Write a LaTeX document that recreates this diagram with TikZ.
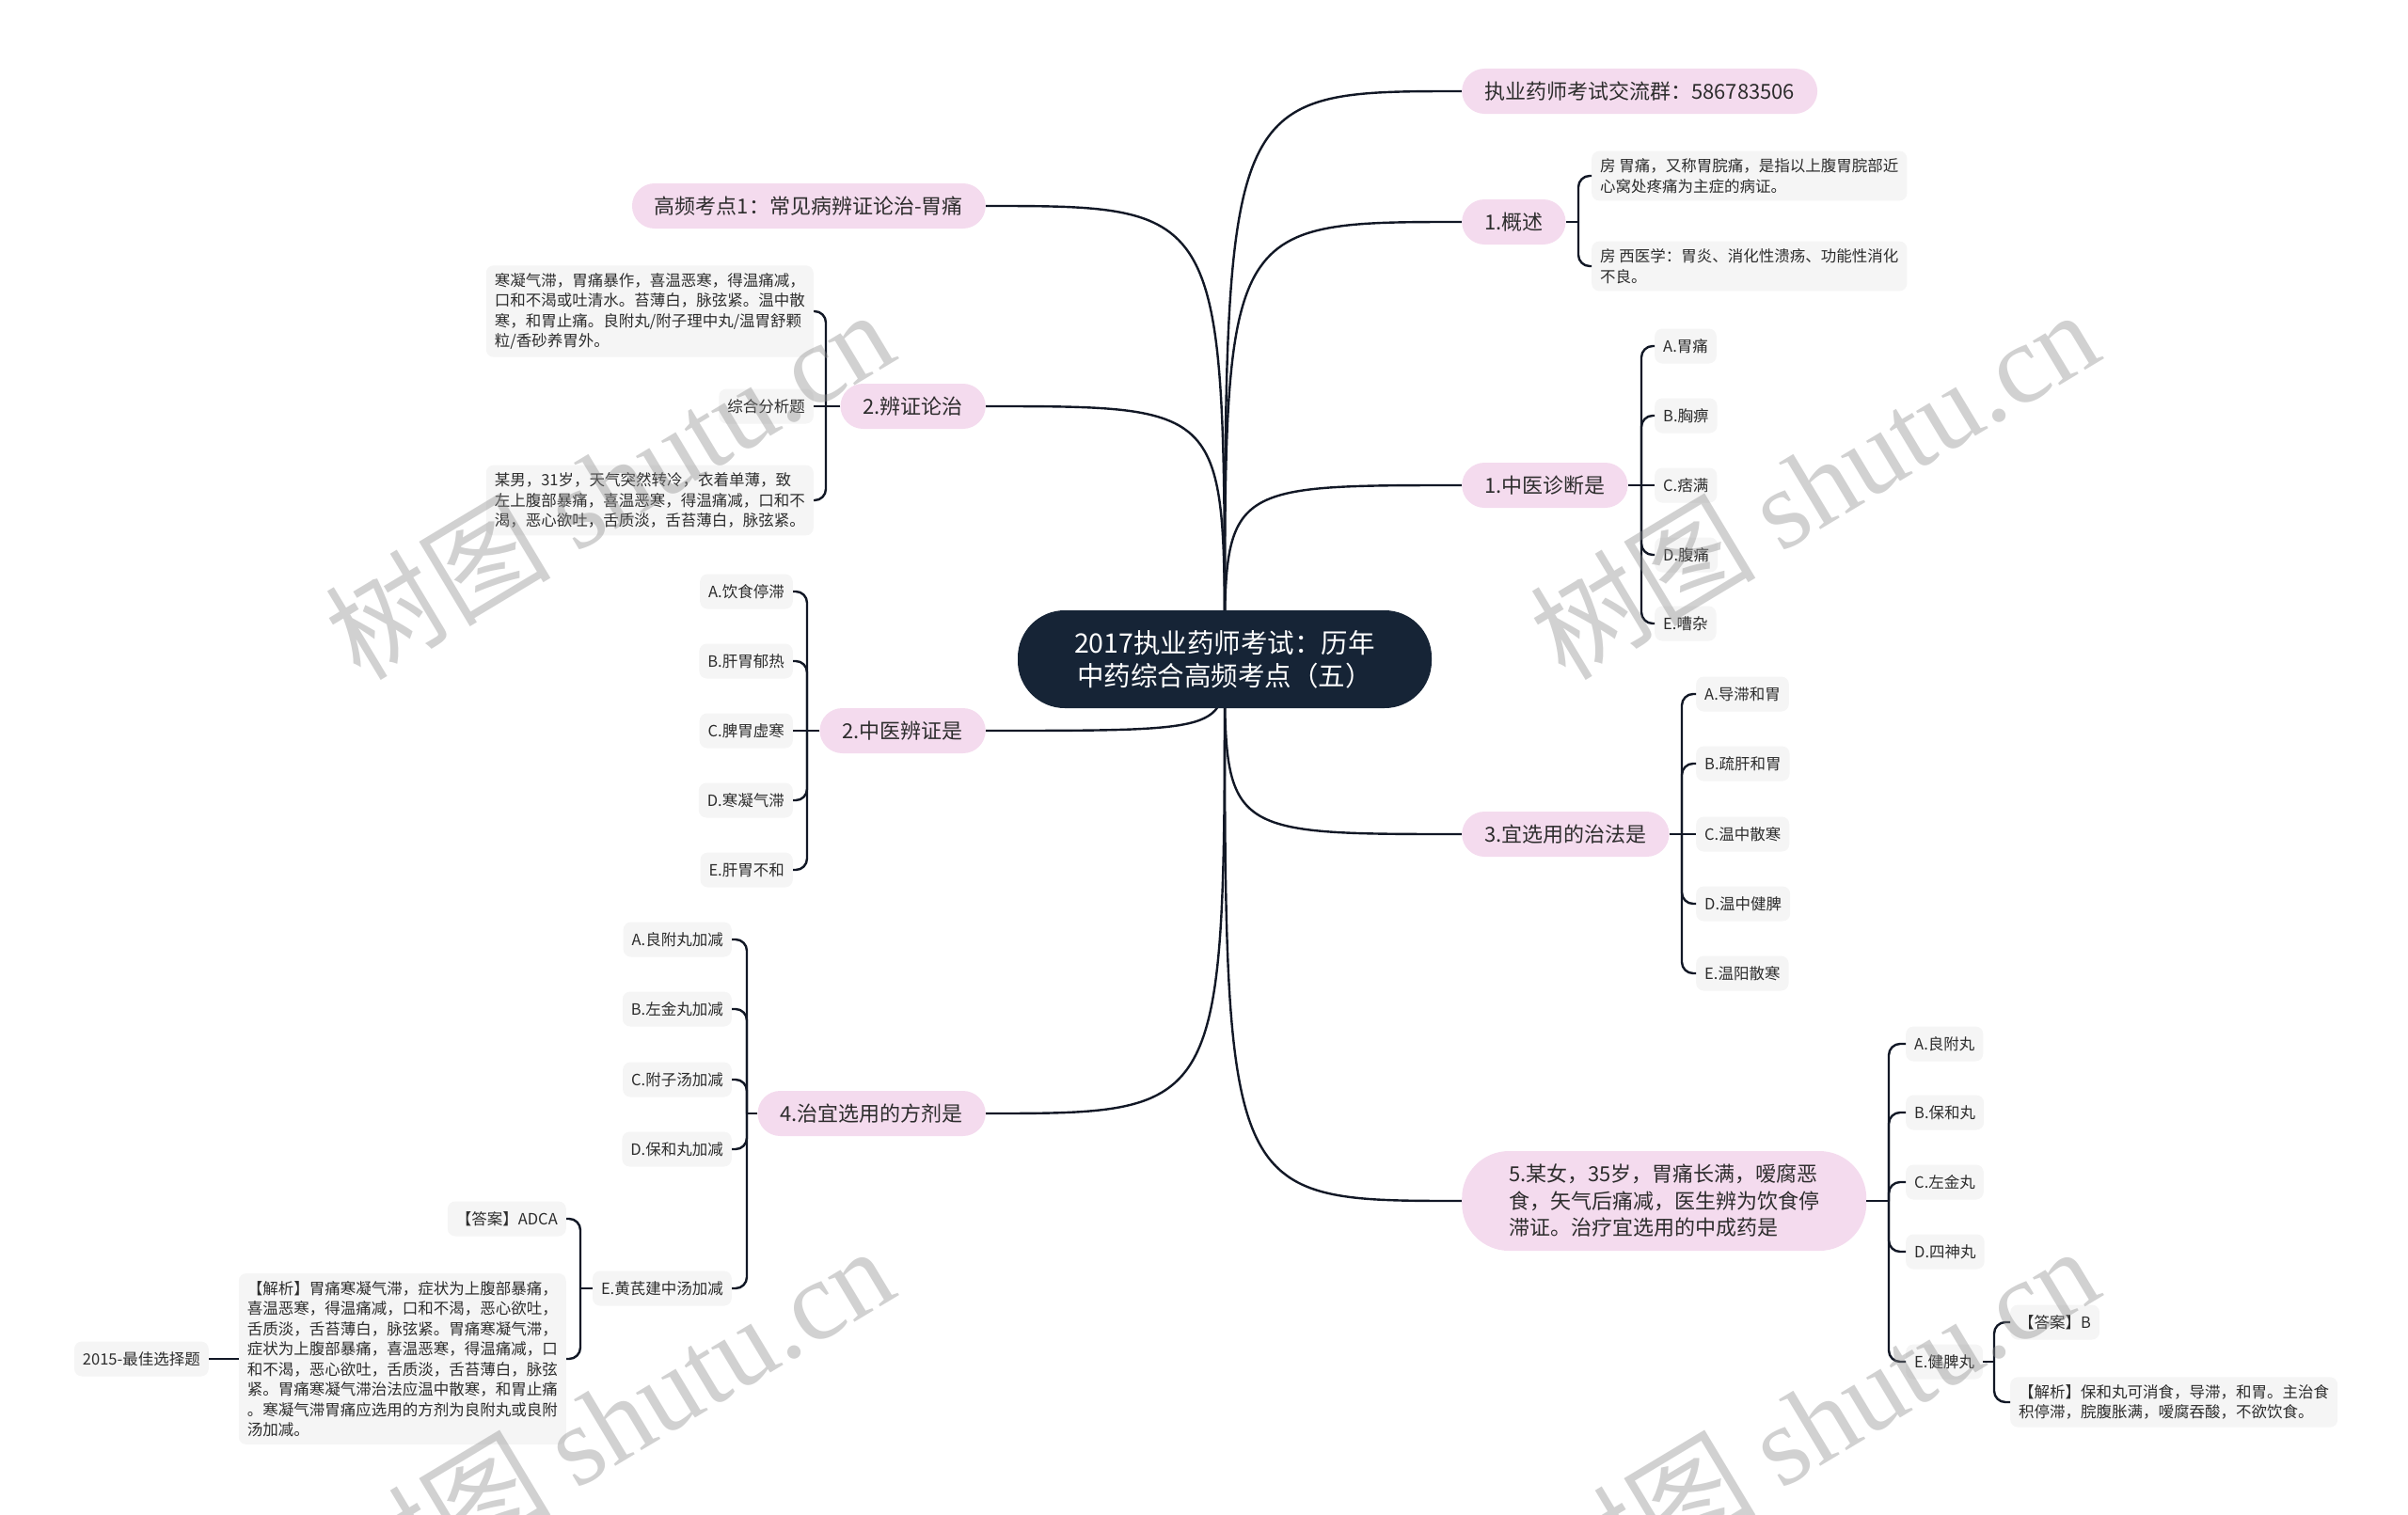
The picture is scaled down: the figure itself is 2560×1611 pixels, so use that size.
\documentclass[tikz,border=0pt]{standalone}
\usepackage{fontspec}
\setmainfont{Noto Sans CJK SC}
\newfontfamily\markserif{Liberation Serif}
\usetikzlibrary{backgrounds}

\definecolor{rootnavy}{RGB}{22,36,54}
\definecolor{topicpink}{RGB}{244,219,238}
\definecolor{leafgray}{RGB}{245,245,245}
\definecolor{inkgray}{RGB}{45,45,45}
\definecolor{linenavy}{RGB}{18,24,38}
\definecolor{markgray}{RGB}{140,140,140}

\tikzstyle{rootblock} = [rectangle, rounded corners=50pt, minimum width=440pt, minimum height=104pt, text centered, align=center, fill=rootnavy, text=white, font=\fontsize{28.5}{35}\selectfont]
\tikzstyle{topicblock} = [rectangle, rounded corners=24pt, minimum height=48pt, inner xsep=24pt, fill=topicpink, text=inkgray, font=\fontsize{22}{28.5}\selectfont]
\tikzstyle{leafblock} = [rectangle, rounded corners=8pt, minimum height=37pt, inner xsep=9pt, fill=leafgray, text=inkgray, font=\fontsize{16.5}{21.5}\selectfont]
\tikzstyle{noteblock} = [leafblock, align=left, inner ysep=8pt]
\tikzstyle{mainflow} = [draw=linenavy, line width=2.4pt]
\tikzstyle{branchflow} = [draw=linenavy, line width=2.4pt, rounded corners=12pt]
\tikzstyle{watermark} = [rotate=31, text=markgray, text opacity=0.4, font=\fontsize{120}{120}\selectfont]

\begin{document}
\begin{tikzpicture}[x=1pt, y=-1pt]
    \useasboundingbox (0,0) rectangle (2560,1611);

    \node (root) [rootblock] at (1302,701) {2017执业药师考试：历年\\中药综合高频考点（五）};

    % right side
    \node (qun) [topicblock, anchor=west] at (1554,97) {执业药师考试交流群：586783506};
    \node (gaishu) [topicblock, anchor=west] at (1554,236) {1.概述};
    \node (zhenduan) [topicblock, anchor=west] at (1554,516) {1.中医诊断是};
    \node (zhifa) [topicblock, anchor=west] at (1554,887) {3.宜选用的治法是};
    \node (anli) [topicblock, anchor=west, align=left, rounded corners=50pt, minimum height=106pt, inner xsep=50pt] at (1554,1277) {5.某女，35岁，胃痛长满，嗳腐恶\\食，矢气后痛减，医生辨为饮食停\\滞证。治疗宜选用的中成药是};

    % left side
    \node (kaodian) [topicblock, anchor=east] at (1048,219) {高频考点1：常见病辨证论治-胃痛};
    \node (bianzheng) [topicblock, anchor=east] at (1048,432) {2.辨证论治};
    \node (zhengxing) [topicblock, anchor=east] at (1048,777) {2.中医辨证是};
    \node (fangji) [topicblock, anchor=east] at (1048,1184) {4.治宜选用的方剂是};

    % 1.概述
    \coordinate (gaishuj) at (1678,236);
    \node (gsa) [noteblock, anchor=west] at (1692,187) {房 胃痛，又称胃脘痛，是指以上腹胃脘部近\\心窝处疼痛为主症的病证。};
    \node (gsb) [noteblock, anchor=west] at (1692,283) {房 西医学：胃炎、消化性溃疡、功能性消化\\不良。};

    % 1.中医诊断是
    \coordinate (zhenduanj) at (1745,516);
    \node (zda) [leafblock, anchor=west] at (1759,368) {A.胃痛};
    \node (zdb) [leafblock, anchor=west] at (1759,442) {B.胸痹};
    \node (zdc) [leafblock, anchor=west] at (1759,516) {C.痞满};
    \node (zdd) [leafblock, anchor=west] at (1759,590) {D.腹痛};
    \node (zde) [leafblock, anchor=west] at (1759,663) {E.嘈杂};

    % 3.宜选用的治法是
    \coordinate (zhifaj) at (1788,887);
    \node (zfa) [leafblock, anchor=west] at (1803,738) {A.导滞和胃};
    \node (zfb) [leafblock, anchor=west] at (1803,812) {B.疏肝和胃};
    \node (zfc) [leafblock, anchor=west] at (1803,887) {C.温中散寒};
    \node (zfd) [leafblock, anchor=west] at (1803,961) {D.温中健脾};
    \node (zfe) [leafblock, anchor=west] at (1803,1035) {E.温阳散寒};

    % 5.某女
    \coordinate (anlij) at (2008,1277);
    \node (ala) [leafblock, anchor=west] at (2026,1110) {A.良附丸};
    \node (alb) [leafblock, anchor=west] at (2026,1183) {B.保和丸};
    \node (alc) [leafblock, anchor=west] at (2026,1257) {C.左金丸};
    \node (ald) [leafblock, anchor=west] at (2026,1331) {D.四神丸};
    \node (ale) [leafblock, anchor=west] at (2026,1448) {E.健脾丸};
    \coordinate (alej) at (2120,1448);
    \node (aleans) [leafblock, anchor=west] at (2137,1406) {【答案】B};
    \node (alenote) [noteblock, anchor=west] at (2137,1491) {【解析】保和丸可消食，导滞，和胃。主治食\\积停滞，脘腹胀满，嗳腐吞酸，不欲饮食。};

    % 2.辨证论治
    \coordinate (bianzhengj) at (878,432);
    \node (bza) [noteblock, anchor=east] at (865,331) {寒凝气滞，胃痛暴作，喜温恶寒，得温痛减，\\口和不渴或吐清水。苔薄白，脉弦紧。温中散\\寒，和胃止痛。良附丸/附子理中丸/温胃舒颗\\粒/香砂养胃外。};
    \node (bzb) [leafblock, anchor=east] at (865,432) {综合分析题};
    \node (bzc) [noteblock, anchor=east] at (865,532) {某男，31岁，天气突然转冷，衣着单薄，致\\左上腹部暴痛，喜温恶寒，得温痛减，口和不\\渴，恶心欲吐，舌质淡，舌苔薄白，脉弦紧。};

    % 2.中医辨证是
    \coordinate (zhengxingj) at (858,777);
    \node (zxa) [leafblock, anchor=east] at (843,629) {A.饮食停滞};
    \node (zxb) [leafblock, anchor=east] at (843,703) {B.肝胃郁热};
    \node (zxc) [leafblock, anchor=east] at (843,777) {C.脾胃虚寒};
    \node (zxd) [leafblock, anchor=east] at (843,851) {D.寒凝气滞};
    \node (zxe) [leafblock, anchor=east] at (843,925) {E.肝胃不和};

    % 4.治宜选用的方剂是
    \coordinate (fangjij) at (794,1184);
    \node (fja) [leafblock, anchor=east] at (778,999) {A.良附丸加减};
    \node (fjb) [leafblock, anchor=east] at (778,1073) {B.左金丸加减};
    \node (fjc) [leafblock, anchor=east] at (778,1148) {C.附子汤加减};
    \node (fjd) [leafblock, anchor=east] at (778,1222) {D.保和丸加减};
    \node (fje) [leafblock, anchor=east] at (778,1370) {E.黄芪建中汤加减};
    \coordinate (fjej) at (617,1370);
    \node (fjeans) [leafblock, anchor=east] at (602,1296) {【答案】ADCA};
    \node (fjenote) [noteblock, anchor=east] at (602,1445) {【解析】胃痛寒凝气滞，症状为上腹部暴痛，\\喜温恶寒，得温痛减，口和不渴，恶心欲吐，\\舌质淡，舌苔薄白，脉弦紧。胃痛寒凝气滞，\\症状为上腹部暴痛，喜温恶寒，得温痛减，口\\和不渴，恶心欲吐，舌质淡，舌苔薄白，脉弦\\紧。胃痛寒凝气滞治法应温中散寒，和胃止痛\\。寒凝气滞胃痛应选用的方剂为良附丸或良附\\汤加减。};
    \node (fjetype) [leafblock, anchor=east] at (222,1445) {2015-最佳选择题};

    \begin{pgfonlayer}{background}
        \draw [mainflow] (root.center) .. controls (root.center |- qun.west) .. (qun.west);
        \draw [mainflow] (root.center) .. controls (root.center |- gaishu.west) .. (gaishu.west);
        \draw [mainflow] (root.center) .. controls (root.center |- zhenduan.west) .. (zhenduan.west);
        \draw [mainflow] (root.center) .. controls (root.center |- zhifa.west) .. (zhifa.west);
        \draw [mainflow] (root.center) .. controls (root.center |- anli.west) .. (anli.west);
        \draw [mainflow] (root.center) .. controls (root.center |- kaodian.east) .. (kaodian.east);
        \draw [mainflow] (root.center) .. controls (root.center |- bianzheng.east) .. (bianzheng.east);
        \draw [mainflow] (root.center) .. controls (root.center |- zhengxing.east) .. (zhengxing.east);
        \draw [mainflow] (root.center) .. controls (root.center |- fangji.east) .. (fangji.east);
    \end{pgfonlayer}

    \draw [branchflow] (gaishu.east) -- (gaishuj);
    \draw [branchflow] (gaishuj) |- (gsa.west);
    \draw [branchflow] (gaishuj) |- (gsb.west);

    \draw [branchflow] (zhenduan.east) -- (zhenduanj);
    \draw [branchflow] (zhenduanj) |- (zda.west);
    \draw [branchflow] (zhenduanj) |- (zdb.west);
    \draw [branchflow] (zhenduanj) -- (zdc.west);
    \draw [branchflow] (zhenduanj) |- (zdd.west);
    \draw [branchflow] (zhenduanj) |- (zde.west);

    \draw [branchflow] (zhifa.east) -- (zhifaj);
    \draw [branchflow] (zhifaj) |- (zfa.west);
    \draw [branchflow] (zhifaj) |- (zfb.west);
    \draw [branchflow] (zhifaj) -- (zfc.west);
    \draw [branchflow] (zhifaj) |- (zfd.west);
    \draw [branchflow] (zhifaj) |- (zfe.west);

    \draw [branchflow] (anli.east) -- (anlij);
    \draw [branchflow] (anlij) |- (ala.west);
    \draw [branchflow] (anlij) |- (alb.west);
    \draw [branchflow] (anlij) |- (alc.west);
    \draw [branchflow] (anlij) |- (ald.west);
    \draw [branchflow] (anlij) |- (ale.west);
    \draw [branchflow] (ale.east) -- (alej);
    \draw [branchflow] (alej) |- (aleans.west);
    \draw [branchflow] (alej) |- (alenote.west);

    \draw [branchflow] (bianzheng.west) -- (bianzhengj);
    \draw [branchflow] (bianzhengj) |- (bza.east);
    \draw [branchflow] (bianzhengj) -- (bzb.east);
    \draw [branchflow] (bianzhengj) |- (bzc.east);

    \draw [branchflow] (zhengxing.west) -- (zhengxingj);
    \draw [branchflow] (zhengxingj) |- (zxa.east);
    \draw [branchflow] (zhengxingj) |- (zxb.east);
    \draw [branchflow] (zhengxingj) -- (zxc.east);
    \draw [branchflow] (zhengxingj) |- (zxd.east);
    \draw [branchflow] (zhengxingj) |- (zxe.east);

    \draw [branchflow] (fangji.west) -- (fangjij);
    \draw [branchflow] (fangjij) |- (fja.east);
    \draw [branchflow] (fangjij) |- (fjb.east);
    \draw [branchflow] (fangjij) |- (fjc.east);
    \draw [branchflow] (fangjij) |- (fjd.east);
    \draw [branchflow] (fangjij) |- (fje.east);
    \draw [branchflow] (fje.west) -- (fjej);
    \draw [branchflow] (fjej) |- (fjeans.east);
    \draw [branchflow] (fjej) |- (fjenote.east);
    \draw [branchflow] (fjenote.west) -- (fjetype.east);

    % watermarks
    \node (mark1) [watermark] at (647,514) {树图 {\markserif shutu.cn}};
    \node (mark2) [watermark] at (1928,514) {树图 {\markserif shutu.cn}};
    \node (mark3) [watermark] at (647,1510) {树图 {\markserif shutu.cn}};
    \node (mark4) [watermark] at (1928,1510) {树图 {\markserif shutu.cn}};
\end{tikzpicture}
\end{document}
